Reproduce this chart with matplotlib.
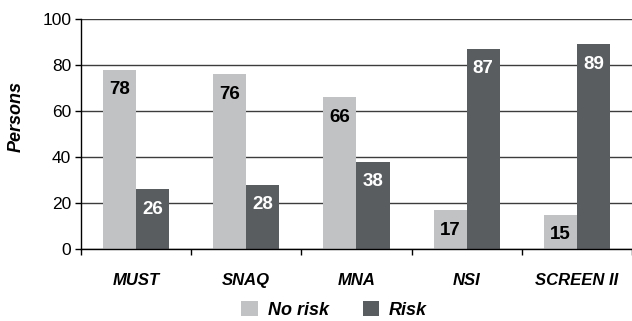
"""Grouped bar chart of nutritional risk screening results."""

import matplotlib.pyplot as plt
import numpy as np

tools = ["MUST", "SNAQ", "MNA", "NSI", "SCREEN II"]
no_risk = [78, 76, 66, 17, 15]
risk = [26, 28, 38, 87, 89]

LIGHT = "#c1c2c4"
DARK = "#5a5d60"

plt.rcParams["font.family"] = ["Liberation Sans", "DejaVu Sans"]

fig = plt.figure(figsize=(6.32, 3.21), dpi=100)
ax = fig.add_axes([0.128, 0.224, 0.872, 0.717])

x = np.arange(len(tools))
width = 0.3

bars_no = ax.bar(x - width / 2, no_risk, width, color=LIGHT, label="No risk", zorder=3)
bars_yes = ax.bar(x + width / 2, risk, width, color=DARK, label="Risk", zorder=3)

for bars, values, colour in ((bars_no, no_risk, "black"), (bars_yes, risk, "white")):
    for bar, value in zip(bars, values):
        ax.annotate(
            f"{value}",
            (bar.get_x() + bar.get_width() / 2, value),
            xytext=(0, -14.5),
            textcoords="offset points",
            ha="center",
            va="center",
            fontsize=13.5,
            fontweight="bold",
            color=colour,
            zorder=4,
        )

ax.set_xlim(-0.5, len(tools) - 0.5)
ax.set_ylim(0, 100)
ax.set_yticks(range(0, 101, 20))
ax.set_xticks(np.arange(len(tools) + 1) - 0.5, minor=True)
ax.set_xticks(x)
ax.set_xticklabels(tools, fontsize=12, fontweight="bold", fontstyle="italic")
ax.tick_params(axis="x", which="major", length=0, pad=17)
ax.tick_params(axis="x", which="minor", length=4, width=1, color="black")
ax.tick_params(axis="y", length=4, width=1, labelsize=12.5, pad=3)

ax.grid(axis="y", color="#3c3c3c", linewidth=1.0, zorder=0)
for side in ("top", "right"):
    ax.spines[side].set_visible(False)
for side in ("left", "bottom"):
    ax.spines[side].set_linewidth(1.0)
    ax.spines[side].set_zorder(5)

# y-axis title sits above the middle of the axis
fig.text(
    16 / 632, 1 - 116 / 321, "Persons",
    rotation=90, ha="center", va="center",
    fontsize=13, fontweight="bold", fontstyle="italic",
)

fig.legend(
    handles=[bars_no, bars_yes],
    labels=["No risk", "Risk"],
    loc="lower center",
    bbox_to_anchor=(0.529, -0.045),
    ncol=2,
    frameon=False,
    prop={"size": 13, "weight": "bold", "style": "italic"},
    handlelength=0.9,
    handleheight=0.9,
    handletextpad=0.55,
    columnspacing=1.9,
)

fig.savefig("out.png", dpi=100)
